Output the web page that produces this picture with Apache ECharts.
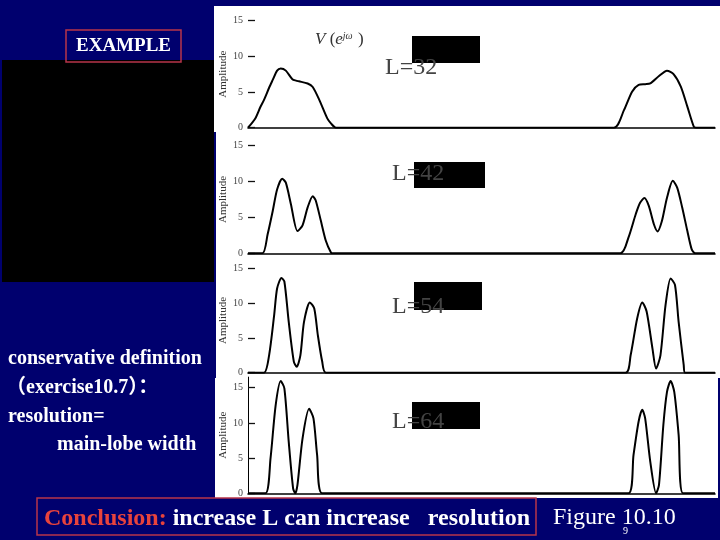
<!DOCTYPE html>
<html>
<head>
<meta charset="utf-8">
<script src="https://cdn.jsdelivr.net/npm/echarts@6/dist/echarts.min.js"></script>
<style>html,body{margin:0;padding:0;background:#00006e;}#c{width:720px;height:540px;}</style>
</head>
<body>
<div id="c"></div>
<script>
// ---- data (omega in rad, amplitude) ----
const omega32 = [0,0.10,0.17,0.22,0.29,0.34,0.40,0.45,0.52,0.61,0.66,0.70,0.82,0.89,0.98,1.09,1.14,1.21,
                 5.03,5.17,5.28,5.37,5.46,5.53,5.65,5.76,5.85,5.95,6.04,6.13,6.16,6.42];
const amp32   = [0,1.3,2.9,3.9,5.6,6.7,8.0,8.3,8.0,6.8,6.6,6.5,6.2,5.7,3.9,1.3,0.6,0,
                 0,2.5,5.05,6.0,6.1,6.2,7.25,8.0,7.5,5.75,2.95,0.1,0,0];
const omega42 = [0,0.20,0.27,0.34,0.40,0.47,0.52,0.59,0.68,0.75,0.82,0.89,0.93,1.00,1.07,1.14,1.16,
                 5.12,5.23,5.33,5.39,5.45,5.51,5.58,5.63,5.69,5.76,5.84,5.90,5.97,6.04,6.10,6.15,6.42];
const amp42   = [0,0,2.65,5.9,8.9,10.4,9.85,6.85,3.1,3.9,6.4,7.95,7.4,4.6,1.75,0.1,0,
                 0,2.2,5.45,7.05,7.7,6.6,4.05,3.05,4.5,7.75,10.1,9.15,6.35,3.1,0.55,0,0];
const omega54 = [0,0.22,0.29,0.36,0.40,0.46,0.50,0.56,0.63,0.67,0.72,0.77,0.85,0.91,0.96,1.02,1.07,
                 5.19,5.26,5.35,5.42,5.48,5.56,5.61,5.67,5.74,5.81,5.87,5.92,5.99,6.01,6.42];
const amp54   = [0,0,2.5,8.3,12.1,13.6,13.1,7.3,1.6,0.85,2.5,7.3,10.1,9.25,5.4,1.6,0,
                 0,2.5,7.8,10.1,8.8,3.5,0.6,2.5,9.7,13.55,12.6,7.3,1.1,0,0];
const omega64 = [0,0.24,0.31,0.38,0.45,0.50,0.56,0.62,0.65,0.68,0.75,0.84,0.90,0.95,1.02,
                 5.23,5.30,5.37,5.42,5.46,5.53,5.61,5.65,5.71,5.76,5.81,5.86,5.92,5.98,6.42];
const amp64   = [0,0,5.0,12.5,15.95,14.9,7.3,0.7,0,1.2,7.8,12.0,10.65,5.45,0,
                 0,5.45,10.2,11.85,10.65,4.5,0,1.2,9.7,14.4,15.95,14.4,8.3,0,0];

const panelLabels = ['L=32','L=42','L=54','L=64'];
const yTicks = [0,5,10,15];
const yMaxes = [15,15,15,16.5];
const axisName = 'Amplitude';

const omegas = [omega32, omega42, omega54, omega64];
const amps = [amp32, amp42, amp54, amp64];

const serif = '"Liberation Serif","Times New Roman",serif';
const cjkSerif = '"Liberation Serif","Noto Sans CJK SC",serif';

const grids = [
  {left:248, right:5, top:20.7, height:107},
  {left:248, right:5, top:145.7, height:107.6},
  {left:248, right:5, top:268.3, height:104.4},
  {left:248, right:5, top:377.1, height:116.2}
];

const xAxes = grids.map((g,i)=>({
  type:'value', gridIndex:i, min:0, max:6.42,
  axisLine:{show:true, onZero:false, lineStyle:{color:'#000', width:1.6}},
  axisTick:{show:false}, axisLabel:{show:false}, splitLine:{show:false}
}));
const yAxes = grids.map((g,i)=>({
  type:'value', gridIndex:i, min:0, max:yMaxes[i],
  axisLine:{show:i===3, lineStyle:{color:'#000', width:1}},
  axisTick:{show:true, inside:true, length:7, customValues:yTicks, lineStyle:{color:'#111', width:1.3}},
  axisLabel:{color:'#444', fontSize:10, fontFamily:serif, margin:5, customValues:yTicks},
  splitLine:{show:false},
  name:axisName, nameLocation:'middle', nameGap:19, nameMoveOverlap:false,
  nameTextStyle:{color:'#333', fontSize:11, fontFamily:serif}
}));
const series = omegas.map((w,i)=>({
  type:'line', xAxisIndex:i, yAxisIndex:i,
  data:w.map((x,k)=>[x, amps[i][k]]),
  showSymbol:false, smooth:0.25, animation:false,
  lineStyle:{color:'#000', width:2}
}));

const labelPos = [
  {tx:385, ty:68, rx:412, ry:36, rw:68, rh:27},
  {tx:392, ty:174, rx:414, ry:162, rw:71, rh:26},
  {tx:392, ty:307, rx:414, ry:282, rw:68, rh:28},
  {tx:392, ty:422, rx:412, ry:402, rw:68, rh:27}
];

const graphic = [
  {type:'rect', z:-10, shape:{x:2,y:60,width:212,height:222}, style:{fill:'#000'}},
  {type:'rect', z:-9, shape:{x:214,y:6,width:506,height:126}, style:{fill:'#fff'}},
  {type:'rect', z:-9, shape:{x:216,y:132,width:504,height:126}, style:{fill:'#fff'}},
  {type:'rect', z:-9, shape:{x:216,y:258,width:504,height:120}, style:{fill:'#fff'}},
  {type:'rect', z:-9, shape:{x:215,y:378,width:503,height:120}, style:{fill:'#fff'}},
  {type:'rect', z:10, shape:{x:66,y:30,width:115,height:32}, style:{fill:'none', stroke:'#b8344a', lineWidth:1.5}},
  {type:'text', z:11, x:123.5, y:46, style:{text:'EXAMPLE', fill:'#fff', fontSize:19, fontWeight:'bold', fontFamily:serif, textAlign:'center', textVerticalAlign:'middle'}},
  {type:'text', z:11, x:8, y:359, style:{text:'conservative definition', fill:'#fff', fontSize:20, fontWeight:'bold', fontFamily:cjkSerif, textVerticalAlign:'middle'}},
  {type:'text', z:11, x:6, y:388, style:{text:'（exercise10.7）：', fill:'#fff', fontSize:20, fontWeight:'bold', fontFamily:cjkSerif, textVerticalAlign:'middle'}},
  {type:'text', z:11, x:8, y:417, style:{text:'resolution=', fill:'#fff', fontSize:20, fontWeight:'bold', fontFamily:cjkSerif, textVerticalAlign:'middle'}},
  {type:'text', z:11, x:57, y:445, style:{text:'main-lobe width', fill:'#fff', fontSize:20, fontWeight:'bold', fontFamily:cjkSerif, textVerticalAlign:'middle'}},
  {type:'rect', z:10, shape:{x:37,y:498,width:499,height:37}, style:{fill:'none', stroke:'#b8344a', lineWidth:1.5}},
  {type:'text', z:11, x:44, y:519, style:{
     text:'{r|Conclusion:}{w| increase L can increase   resolution}',
     textVerticalAlign:'middle',
     rich:{
       r:{fill:'#e8433c', fontSize:24, fontWeight:'bold', fontFamily:serif},
       w:{fill:'#fff', fontSize:24, fontWeight:'bold', fontFamily:serif}
     }}},
  {type:'text', z:11, x:553, y:518, style:{text:'Figure 10.10', fill:'#fff', fontSize:24, fontFamily:serif, textVerticalAlign:'middle'}},
  {type:'text', z:12, x:623, y:531, style:{text:'9', fill:'#fff', fontSize:10, fontFamily:serif, textVerticalAlign:'middle'}},
  {type:'text', z:11, x:315, y:40, style:{
     text:'{v|V}{p| (}{e|e}{s|jω}{p| )}',
     textVerticalAlign:'middle',
     rich:{
       v:{fill:'#333', fontSize:17, fontStyle:'italic', fontFamily:serif},
       p:{fill:'#333', fontSize:17, fontFamily:serif},
       e:{fill:'#333', fontSize:17, fontStyle:'italic', fontFamily:serif},
       s:{fill:'#333', fontSize:10, fontStyle:'italic', fontFamily:serif, verticalAlign:'top', padding:[0,1,8,0]}
     }}}
];
labelPos.forEach((p,i)=>{
  graphic.push({type:'rect', z:20, shape:{x:p.rx,y:p.ry,width:p.rw,height:p.rh}, style:{fill:'#000'}});
  graphic.push({type:'text', z:21, x:p.tx, y:p.ty, style:{text:panelLabels[i], fill:'#444', fontSize:24, fontFamily:serif, textVerticalAlign:'middle'}});
});

const chart = echarts.init(document.getElementById('c'));
chart.setOption({
  backgroundColor:'#00006e',
  animation:false,
  grid:grids,
  xAxis:xAxes,
  yAxis:yAxes,
  series:series,
  graphic:graphic
});
</script>
</body>
</html>
